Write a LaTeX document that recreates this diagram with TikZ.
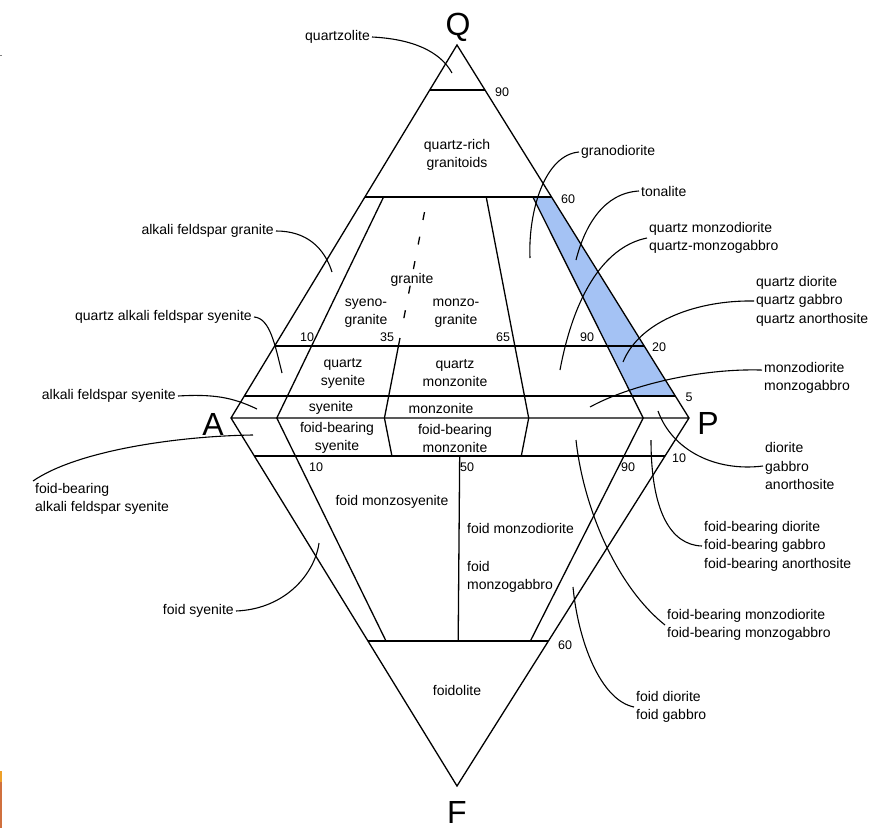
\documentclass[tikz,border=0pt]{standalone}
\usepackage{fontspec}
\setmainfont{Liberation Sans}
\usepackage{xcolor}
\usepackage{tikz}
\usetikzlibrary{calc}

\definecolor{tonblue}{RGB}{164,194,244}
\definecolor{edgeorange}{RGB}{238,160,40}
\definecolor{edgebrown}{RGB}{208,112,62}

\tikzset{
  border/.style={line width=1.3pt,line join=miter},
  field/.style={font=\fontsize{14}{18}\selectfont,align=center,inner sep=0pt},
  lbl/.style={font=\fontsize{14}{18.5}\selectfont,align=left,inner sep=2pt},
  num/.style={font=\fontsize{12.5}{14}\selectfont,inner sep=0pt},
  corner/.style={font=\fontsize{32}{34}\selectfont,inner sep=0pt,anchor=base},
  leader/.style={line width=1.1pt}
}

\begin{document}
\begin{tikzpicture}[x=1pt,y=-1pt]
  \useasboundingbox (0,0) rectangle (873,828);
  \coordinate (q) at (457,45);
  \coordinate (a) at (231,418);
  \coordinate (p) at (689,418);
  \coordinate (f) at (457,786);
  \foreach \pc/\n in {0.1/10,0.335/35,0.5/50,0.65/65,0.9/90}
    \coordinate (ap\n) at ($(a)!\pc!(p)$);

  \fill[tonblue] ($(q)!0.4075!(ap90)$) -- ($(q)!0.4075!(p)$) -- ($(q)!0.941!(p)$) -- ($(q)!0.941!(ap90)$) -- cycle;

  \draw[border] (q) -- (a) -- (f) -- (p) -- cycle (a) -- (p);
  \foreach \t in {0.121,0.4075,0.807,0.941}
    \draw[border] ($(q)!\t!(a)$) -- ($(q)!\t!(p)$);
  \foreach \t in {0.103,0.606}
    \draw[border] ($(a)!\t!(f)$) -- ($(p)!\t!(f)$);
  \draw[border] ($(q)!0.4075!(ap10)$) -- (ap10) -- ($(ap10)!0.606!(f)$);
  \draw[border] ($(q)!0.7855!(ap35)$) -- (ap35) -- ($(ap35)!0.103!(f)$);
  \draw[border,dash pattern=on 8pt off 17pt] ($(q)!0.448!(ap35)$) -- ($(q)!0.75!(ap35)$);
  \draw[border] ($(q)!0.4075!(ap65)$) -- (ap65) -- ($(ap65)!0.103!(f)$);
  \draw[border] ($(q)!0.4075!(ap90)$) -- (ap90) -- ($(ap90)!0.606!(f)$);
  \draw[border] ($(ap50)!0.103!(f)$) -- ($(ap50)!0.606!(f)$);

  \node[corner] (lQ) at (458,35) {Q};
  \node[corner] (lA) at (213,435) {A};
  \node[corner] (lP) at (708,434) {P};
  \node[corner] (lF) at (457,823) {F};

  \node[num] (n90q) at (502,92) {90};
  \node[num] (n60q) at (568,199) {60};
  \node[num] (n10q) at (307,337) {10};
  \node[num] (n35) at (387,337) {35};
  \node[num] (n65) at (503,337) {65};
  \node[num] (n90p) at (587,337) {90};
  \node[num] (n20) at (659,347) {20};
  \node[num] (n5) at (689,397) {5};
  \node[num] (n10f) at (316,467) {10};
  \node[num] (n50) at (467,467) {50};
  \node[num] (n90f) at (628,467) {90};
  \node[num] (n10p) at (679,458) {10};
  \node[num] (n60f) at (565,645) {60};

  \node[field] (fqrg) at (457,155) {quartz-rich\\granitoids};
  \node[field] (fgr) at (412,280) {granite};
  \node[field] (fsg) at (366,313) {syeno-\\granite};
  \node[field] (fmg) at (456,313) {monzo-\\granite};
  \node[field] (fqs) at (343,373) {quartz\\syenite};
  \node[field] (fqm) at (455,373) {quartz\\monzonite};
  \node[field] (fs) at (331,408) {syenite};
  \node[field] (fm) at (441,408) {monzonite};
  \node[field] (ffs) at (337,438) {foid-bearing\\syenite};
  \node[field] (ffm) at (455,438) {foid-bearing\\monzonite};
  \node[field] (ffms) at (392,502) {foid monzosyenite};
  \node[field,anchor=west] (ffmd) at (467,528) {foid monzodiorite};
  \node[field,anchor=west,align=left] (ffmg) at (467,577) {foid\\monzogabbro};
  \node[field] (ffo) at (457,690) {foidolite};

  \node[lbl,anchor=east] (lqz) at (372,37) {quartzolite};
  \node[lbl,anchor=east] (lafg) at (276,231) {alkali feldspar granite};
  \node[lbl,anchor=east] (lqafs) at (254,317) {quartz alkali feldspar syenite};
  \node[lbl,anchor=east] (lafs) at (178,396) {alkali feldspar syenite};
  \node[lbl,anchor=north west] (lfafs) at (33,481) {foid-bearing\\alkali feldspar syenite};
  \node[lbl,anchor=east] (lfs) at (236,611) {foid syenite};
  \node[lbl,anchor=west] (lgd) at (579,152) {granodiorite};
  \node[lbl,anchor=west] (lton) at (639,191) {tonalite};
  \node[lbl,anchor=west] (lqmd) at (647,238) {quartz monzodiorite\\quartz-monzogabbro};
  \node[lbl,anchor=west] (lqd) at (754,301) {quartz diorite\\quartz gabbro\\quartz anorthosite};
  \node[lbl,anchor=west] (lmd) at (762,378) {monzodiorite\\monzogabbro};
  \node[lbl,anchor=west] (ldio) at (763,466) {diorite\\gabbro\\anorthosite};
  \node[lbl,anchor=west] (lfdio) at (702,546) {foid-bearing diorite\\foid-bearing gabbro\\foid-bearing anorthosite};
  \node[lbl,anchor=west] (lfmd) at (665,625) {foid-bearing monzodiorite\\foid-bearing monzogabbro};
  \node[lbl,anchor=west] (lfd) at (634,707) {foid diorite\\foid gabbro};

  \coordinate (cqz) at (452,73);
  \coordinate (cafg) at (332,272);
  \coordinate (cqafs) at (282,373);
  \coordinate (cafs) at (257,409);
  \coordinate (cfafs) at (253,435);
  \coordinate (cfs) at (319,543);
  \coordinate (cgd) at (530,258);
  \coordinate (cton) at (576,260);
  \coordinate (cqmd) at (560,370);
  \coordinate (cqd) at (623,362);
  \coordinate (cmd) at (590,407);
  \coordinate (cdio) at (658,411);
  \coordinate (cfdio) at (651,440);
  \coordinate (cfmd) at (576,440);
  \coordinate (cfd) at (573,587);

  \draw[leader] (lqz.east) .. controls +(40,2) and +(-12,-22) .. (cqz);
  \draw[leader] (lafg.east) .. controls +(30,0) and +(-8,-25) .. (cafg);
  \draw[leader] (lqafs.east) .. controls +(16,1) and +(-7,-28) .. (cqafs);
  \draw[leader] (lafs.east) .. controls +(35,-2) and +(-25,-12) .. (cafs);
  \draw[leader] (lfafs.north west) .. controls +(45,-31) and +(-73,1) .. (cfafs);
  \draw[leader] (lfs.east) .. controls +(50,-2) and +(-4,30) .. (cfs);
  \draw[leader] (lgd.west) .. controls +(-35,3) and +(-2,-45) .. (cgd);
  \draw[leader] (lton.west) .. controls +(-35,2) and +(9,-35) .. (cton);
  \draw[leader] (lqmd.west) .. controls +(-40,8) and +(15,-80) .. (cqmd);
  \draw[leader] (lqd.west) .. controls +(-55,-1) and +(17,-42) .. (cqd);
  \draw[leader] (lmd.170) .. controls +(-60,-2) and +(40,-22) .. (cmd);
  \draw[leader] (cdio) .. controls +(14,39) and +(-48,6) .. (ldio.west);
  \draw[leader] (cfdio) .. controls +(0,70) and +(-32,-1) .. (lfdio.west);
  \draw[leader] (cfmd) .. controls +(7,65) and +(-50,-40) .. (lfmd.west);
  \draw[leader] (cfd) .. controls +(5,53) and +(-34,-7) .. (lfd.west);

  \fill[edgeorange] (0,771) rectangle (2,782);
  \fill[edgebrown] (0,782) rectangle (2,828);
  \draw[gray,line width=0.6pt] (0,55) -- (2,55);
\end{tikzpicture}
\end{document}
